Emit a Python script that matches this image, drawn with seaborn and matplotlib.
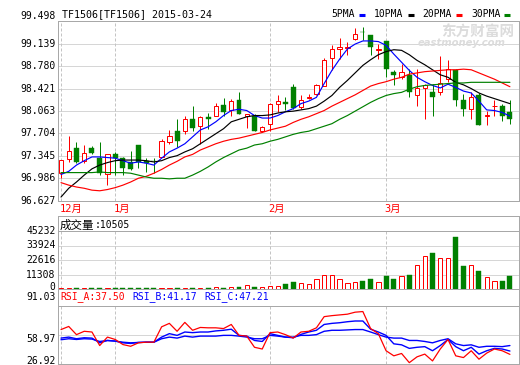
import numpy as np
import pandas as pd
import matplotlib
matplotlib.use("Agg")
import matplotlib.pyplot as plt
import matplotlib.transforms as mtransforms
from matplotlib.lines import Line2D
import seaborn as sns

sns.set_style("white")
plt.rcParams['font.family'] = ['DejaVu Sans Mono', 'Noto Sans CJK SC']

# ---------------- data ----------------
opens = [97.07, 97.30, 97.47, 97.27, 97.48, 97.32, 97.05, 97.37, 97.31, 97.25,
         97.52, 97.27, 97.27, 97.33, 97.57, 97.74, 97.75, 97.93, 97.82, 97.96,
         97.99, 98.16, 98.08, 98.24, 97.98, 97.99, 97.74, 97.86, 98.18, 98.20,
         98.44, 98.13, 98.27, 98.34, 98.46, 98.90, 99.05, 99.07, 99.21, 99.33,
         99.27, 99.04, 99.18, 98.69, 98.60, 98.64, 98.32, 98.43, 98.36, 98.36,
         98.58, 98.71, 98.23, 98.10, 98.31, 97.99, 98.14, 98.14, 98.05]
closes = [97.28, 97.42, 97.25, 97.40, 97.39, 97.08, 97.37, 97.31, 97.16, 97.14,
          97.25, 97.24, 97.26, 97.58, 97.66, 97.58, 97.93, 97.79, 97.96, 97.94,
          98.14, 98.05, 98.22, 98.02, 98.02, 97.75, 97.80, 98.18, 98.22, 98.18,
          98.11, 98.24, 98.29, 98.47, 98.88, 99.05, 99.09, 99.09, 99.29, 99.32,
          99.08, 99.05, 98.74, 98.64, 98.68, 98.36, 98.43, 98.48, 98.28, 98.51,
          98.74, 98.24, 98.10, 98.28, 97.84, 98.00, 98.15, 97.99, 97.94]
highs = [97.28, 97.67, 97.57, 97.52, 97.50, 97.57, 97.37, 97.41, 97.33, 97.42,
         97.52, 97.31, 97.31, 97.61, 97.76, 97.93, 97.98, 98.14, 97.99, 98.03,
         98.19, 98.27, 98.26, 98.36, 98.02, 98.02, 97.83, 98.19, 98.31, 98.28,
         98.49, 98.31, 98.34, 98.50, 98.90, 99.12, 99.22, 99.17, 99.39, 99.41,
         99.27, 99.13, 99.18, 98.71, 98.82, 98.74, 98.74, 98.50, 98.50, 98.94,
         98.88, 98.74, 98.34, 98.36, 98.35, 98.07, 98.23, 98.18, 98.23]
lows = [96.99, 97.25, 97.24, 97.23, 97.37, 97.04, 96.88, 97.04, 97.04, 97.12,
        97.15, 97.09, 97.08, 97.33, 97.54, 97.49, 97.70, 97.75, 97.54, 97.78,
        97.99, 97.99, 97.99, 98.02, 97.79, 97.74, 97.73, 97.75, 98.05, 98.08,
        98.10, 98.10, 98.26, 98.31, 98.46, 98.71, 98.89, 98.95, 99.19, 99.19,
        98.95, 98.89, 98.60, 98.47, 98.58, 98.28, 98.15, 97.94, 97.99, 98.31,
        98.52, 98.15, 97.99, 97.94, 97.84, 97.84, 97.99, 97.90, 97.85]

ma5 = [97.05, 97.10, 97.20, 97.27, 97.33, 97.33, 97.32, 97.31, 97.27, 97.23,
       97.25, 97.23, 97.20, 97.31, 97.41, 97.47, 97.54, 97.65, 97.76, 97.81,
       97.89, 97.99, 98.07, 98.09, 98.07, 97.99, 97.95, 97.95, 97.99, 98.05,
       98.10, 98.18, 98.22, 98.28, 98.50, 98.71, 98.89, 99.05, 99.13, 99.18,
       99.18, 99.17, 99.11, 98.97, 98.84, 98.71, 98.60, 98.53, 98.47, 98.43,
       98.49, 98.44, 98.38, 98.35, 98.22, 98.08, 98.07, 98.04, 97.98]
ma10 = [96.69, 96.83, 96.93, 97.04, 97.14, 97.20, 97.24, 97.27, 97.28, 97.28,
        97.28, 97.27, 97.25, 97.27, 97.32, 97.35, 97.41, 97.46, 97.54, 97.62,
        97.70, 97.78, 97.89, 97.93, 97.97, 97.99, 97.99, 98.00, 98.03, 98.05,
        98.06, 98.08, 98.10, 98.14, 98.22, 98.31, 98.44, 98.55, 98.67, 98.79,
        98.88, 98.96, 99.01, 99.04, 99.03, 98.96, 98.87, 98.80, 98.72, 98.64,
        98.60, 98.52, 98.48, 98.42, 98.35, 98.30, 98.26, 98.22, 98.18]
ma20 = [96.92, 96.88, 96.85, 96.83, 96.80, 96.79, 96.81, 96.84, 96.88, 96.93,
        96.99, 97.02, 97.07, 97.13, 97.20, 97.26, 97.33, 97.37, 97.44, 97.49,
        97.54, 97.58, 97.61, 97.63, 97.66, 97.69, 97.72, 97.76, 97.79, 97.82,
        97.88, 97.93, 97.97, 98.02, 98.07, 98.14, 98.20, 98.26, 98.32, 98.39,
        98.46, 98.50, 98.53, 98.57, 98.60, 98.65, 98.67, 98.69, 98.70, 98.71,
        98.72, 98.72, 98.73, 98.72, 98.67, 98.62, 98.57, 98.51, 98.45]
ma30 = [97.08, 97.08, 97.08, 97.08, 97.08, 97.09, 97.08, 97.08, 97.08, 97.07,
        97.04, 97.01, 96.99, 96.99, 96.98, 96.99, 96.99, 97.04, 97.10, 97.17,
        97.25, 97.32, 97.38, 97.44, 97.47, 97.52, 97.54, 97.58, 97.61, 97.65,
        97.69, 97.72, 97.74, 97.78, 97.82, 97.86, 97.93, 97.99, 98.06, 98.13,
        98.20, 98.26, 98.31, 98.34, 98.36, 98.41, 98.45, 98.47, 98.48, 98.49,
        98.50, 98.51, 98.51, 98.52, 98.52, 98.52, 98.52, 98.52, 98.52]

volume = [700, 850, 600, 750, 650, 900, 800, 700, 650, 750,
          800, 700, 650, 900, 750, 850, 800, 750, 900, 850,
          1800, 900, 1500, 1600, 2900, 1500, 1800, 2600, 2600, 4200,
          5700, 4700, 3900, 8100, 10900, 10900, 7800, 4700, 5500, 6500,
          7800, 5500, 9900, 8100, 10400, 11200, 18700, 26000, 28300, 24400,
          24400, 40300, 17700, 19000, 14300, 9600, 6500, 6500, 10505]

rsi_a = [64.8, 68.2, 59.2, 62.9, 62.1, 47.2, 56.5, 53.9, 48.3, 46.4,
         50.2, 50.9, 50.9, 67.8, 71.6, 62.9, 72.7, 64.0, 67.1, 66.7,
         66.7, 65.9, 70.4, 58.4, 57.6, 45.3, 43.4, 61.4, 62.1, 59.2,
         55.4, 62.1, 62.9, 66.7, 79.0, 80.1, 80.9, 81.7, 83.9, 84.6,
         65.9, 60.3, 41.5, 35.9, 38.5, 28.4, 34.8, 37.8, 30.3, 43.4,
         53.9, 35.9, 34.0, 41.5, 32.2, 38.9, 43.4, 41.5, 37.50]
rsi_b = [55.4, 56.5, 54.7, 55.8, 55.4, 50.2, 52.8, 52.1, 50.2, 49.5,
         50.6, 50.9, 50.9, 56.5, 60.3, 58.4, 62.1, 61.4, 62.1, 62.1,
         63.3, 64.0, 65.2, 58.4, 57.6, 52.8, 51.7, 60.3, 58.4, 56.5,
         55.8, 59.5, 62.1, 64.0, 70.4, 71.6, 72.3, 73.4, 74.2, 74.2,
         65.2, 62.1, 58.4, 49.1, 48.0, 44.1, 45.3, 46.0, 41.5, 47.2,
         53.9, 46.0, 41.5, 45.3, 37.8, 41.5, 44.1, 43.4, 41.17]
rsi_c = [53.6, 54.7, 53.9, 54.7, 54.3, 51.7, 52.8, 52.1, 50.9, 50.2,
         50.6, 50.9, 50.9, 54.7, 56.5, 55.4, 57.6, 56.5, 57.6, 57.6,
         57.6, 58.4, 58.4, 57.6, 56.5, 54.7, 54.7, 58.4, 57.6, 56.5,
         56.5, 58.4, 58.4, 59.2, 62.9, 64.0, 64.0, 64.4, 64.8, 64.8,
         62.1, 59.2, 56.5, 55.4, 55.4, 52.8, 52.8, 51.7, 50.2, 52.8,
         54.7, 49.1, 47.2, 48.0, 45.3, 46.4, 46.4, 46.0, 47.21]

price_ticks = [96.627, 96.986, 97.345, 97.704, 98.063, 98.421, 98.780, 99.139, 99.498]
price_labels = ["96.627", "96.986", "97.345", "97.704", "98.063", "98.421", "98.780", "99.139", "99.498"]
vol_ticks = [0, 11308, 22616, 33924, 45232]
vol_labels = ["0", "11308", "22616", "33924", "45232"]
rsi_ticks = [26.92, 58.97, 91.03]
rsi_labels = ["26.92", "58.97", "91.03"]
month_idx = [0, 7, 27, 42]
month_labels = ["12月", "1月", "2月", "3月"]
title = "TF1506[TF1506] 2015-03-24"
legend_names = ["5PMA", "10PMA", "20PMA", "30PMA"]
vol_header = ("成交量", ":10505")
rsi_header = ["RSI_A:37.50", "RSI_B:41.17", "RSI_C:47.21"]

df = pd.DataFrame({"i": np.arange(len(closes)), "open": opens, "close": closes,
                   "high": highs, "low": lows, "ma5": ma5, "ma10": ma10,
                   "ma20": ma20, "ma30": ma30, "vol": volume,
                   "rsi_a": rsi_a, "rsi_b": rsi_b, "rsi_c": rsi_c})

# ---------------- layout ----------------
W, H = 520, 365
fig = plt.figure(figsize=(W / 100, H / 100), dpi=100)
fig.patch.set_facecolor("white")

RED = "#ff0000"
GREEN = "#008000"
BLUE = "#0000ff"
FRAME = "#a8a8a8"
GRID = "#d6d6d6"
DASH = "#c4c4c4"
X0, X1 = 58, 519
STEP = 7.74
FIRST = 61
XLIM = ((X0 - FIRST) / STEP, (X1 - FIRST) / STEP)
PX = 0.72  # one pixel in points


def px_axes(x0, y0, x1, y1):
    a = fig.add_axes([x0 / W, 1 - y1 / H, (x1 - x0) / W, (y1 - y0) / H])
    a.set_xlim(*XLIM)
    a.set_xticks([])
    a.set_yticks([])
    a.set_facecolor("none")
    for s in a.spines.values():
        s.set_color(FRAME)
        s.set_linewidth(PX)
    return a


def ylab(ax, val, txt, dy=0.0, color="black"):
    tr = mtransforms.blended_transform_factory(fig.transFigure, ax.transData)
    tr = tr + mtransforms.ScaledTranslation(0, -dy / 100, fig.dpi_scale_trans)
    ax.text(55.5 / W, val, txt, transform=tr, ha="right", va="center",
            fontsize=7, color=color, family="DejaVu Sans Mono", clip_on=False)


def ftext(x, y, s, **kw):
    fig.text(x / W, 1 - y / H, s, va="center", ha="left", **kw)


up = df["close"] >= df["open"]

# ---------------- price panel ----------------
axp = px_axes(X0, 21, X1, 201)
axp.set_ylim(price_ticks[0], price_ticks[-1])
for t in price_ticks[1:-1]:
    axp.axhline(t, color=GRID, lw=PX, zorder=0)
for m in month_idx:
    axp.axvline(m, color=DASH, lw=PX, ls=(0, (3, 2)), zorder=0)

cols = np.where(up, RED, GREEN)
axp.vlines(df["i"], df["low"], df["high"], colors=cols, lw=PX, zorder=2)
bodies = df["close"] - df["open"]
# rising: hollow red, falling: solid green
axp.bar(df["i"][up], bodies[up].where(bodies[up].abs() > 0.004, 0.004), bottom=df["open"][up],
        width=0.56, facecolor="white", edgecolor=RED, linewidth=PX, zorder=3)
axp.bar(df["i"][~up], bodies[~up].where(bodies[~up].abs() > 0.004, -0.004), bottom=df["open"][~up],
        width=0.64, facecolor=GREEN, edgecolor=GREEN, linewidth=0.3, zorder=3)

for col, c in [("ma5", BLUE), ("ma10", "black"), ("ma20", RED), ("ma30", GREEN)]:
    sns.lineplot(data=df, x="i", y=col, ax=axp, color=c, linewidth=0.85, legend=False, zorder=4)
axp.set_xlabel("")
axp.set_ylabel("")
axp.set_xticks([])
axp.set_yticks([])
axp.set_xlim(*XLIM)
axp.set_ylim(price_ticks[0], price_ticks[-1])
for t, l in zip(price_ticks, price_labels):
    ylab(axp, t, l, dy=(-5 if t == price_ticks[-1] else 0))

# month labels row
for m, l in zip(month_idx, month_labels):
    ftext(FIRST + m * STEP - 1.5, 208.5, l, color=RED, fontsize=7.5,
          family=["DejaVu Sans Mono", "Noto Sans CJK SC"])

# ---------------- volume panel ----------------
axvh = px_axes(X0, 216, X1, 231)
axv = px_axes(X0, 231, X1, 289)
axv.set_ylim(0, vol_ticks[-1])
for t in vol_ticks[1:-1]:
    axv.axhline(t, color=GRID, lw=PX, zorder=0)
for m in month_idx:
    axv.axvline(m, color=DASH, lw=PX, ls=(0, (3, 2)), zorder=0)
axv.bar(df["i"][up], df["vol"][up], width=0.56, facecolor="white",
        edgecolor=RED, linewidth=PX, zorder=3)
axv.bar(df["i"][~up], df["vol"][~up], width=0.64, facecolor=GREEN,
        edgecolor=GREEN, linewidth=0.3, zorder=3)
for t, l in zip(vol_ticks, vol_labels):
    ylab(axv, t, l, dy=(-2.5 if t == 0 else 0))
ftext(60, 225.5, vol_header[0], fontsize=8.3, family="Noto Sans CJK SC", color="black")
ftext(95, 225.5, vol_header[1], fontsize=7, family="DejaVu Sans Mono", color="black")

# ---------------- RSI panel ----------------
axrh = px_axes(X0, 289, X1, 305.7)
axr = px_axes(X0, 305.7, X1, 364)
axr.set_ylim(rsi_ticks[0], rsi_ticks[-1])
axr.axhline(rsi_ticks[1], color=GRID, lw=PX, zorder=0)
for m in month_idx:
    axr.axvline(m, color=DASH, lw=PX, ls=(0, (3, 2)), zorder=0)
sns.lineplot(data=df, x="i", y="rsi_c", ax=axr, color=BLUE, linewidth=1.0, legend=False, zorder=3)
sns.lineplot(data=df, x="i", y="rsi_b", ax=axr, color=BLUE, linewidth=1.0, legend=False, zorder=3)
sns.lineplot(data=df, x="i", y="rsi_a", ax=axr, color=RED, linewidth=0.9, legend=False, zorder=4)
axr.set_xlabel("")
axr.set_ylabel("")
axr.set_xticks([])
axr.set_yticks([])
axr.set_xlim(*XLIM)
axr.set_ylim(rsi_ticks[0], rsi_ticks[-1])
for t, l, dy in zip(rsi_ticks, rsi_labels, [-3.5, 4.3, -8.5]):
    ylab(axr, t, l, dy=dy)
for x, s, c in zip([60, 132, 204], rsi_header, [RED, BLUE, BLUE]):
    ftext(x, 296.5, s, fontsize=7, family="DejaVu Sans Mono", color=c)

# ---------------- title / legend / watermark ----------------
ftext(62, 14, title, fontsize=7.2, family="DejaVu Sans Mono", color="black")
for x, s in zip([331.5, 374, 422, 471], legend_names):
    ftext(x, 14, s, fontsize=7, family="DejaVu Sans Mono", color="black")
for (xa, xb), c in zip([(359, 365), (408, 414), (456, 462), (504, 510)], [BLUE, "black", RED, GREEN]):
    fig.add_artist(Line2D([xa / W, xb / W], [1 - 14.5 / H, 1 - 14.5 / H], color=c,
                          lw=2.2, solid_capstyle="butt", transform=fig.transFigure))
ftext(441, 32, "东方财富网", fontsize=10.5, family="Noto Sans CJK SC", weight="bold",
      color="#dcdcdc", zorder=0)
ftext(418, 43.5, "eastmoney.com", fontsize=7.2, family="DejaVu Sans", weight="bold",
      style="italic", color="#dcdcdc", zorder=0)

fig.savefig("out.png", dpi=100, facecolor="white")
